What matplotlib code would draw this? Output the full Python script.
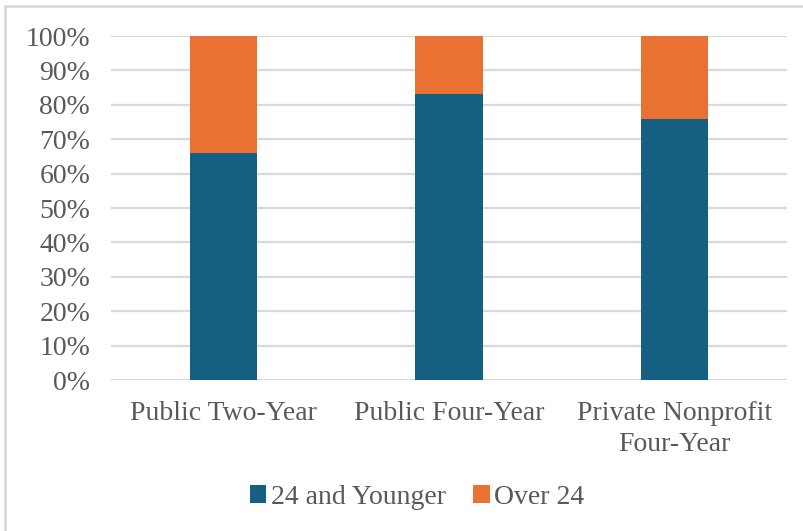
import numpy as np
import matplotlib
matplotlib.use("Agg")
import matplotlib.pyplot as plt
from matplotlib.patches import Rectangle
from matplotlib.ticker import PercentFormatter

sectors = ["Public Two-Year", "Public Four-Year", "Private Nonprofit\nFour-Year"]
young = [66, 83, 76]           # 24 and younger, percent
older = [34, 17, 24]           # over 24, percent
series_names = ["24 and Younger", "Over 24"]

BLUE = "#156082"
ORANGE = "#E97132"
GRID = "#D9D9D9"
TEXT = "#595959"

plt.rcParams["font.family"] = ["Liberation Serif", "DejaVu Serif"]

fig = plt.figure(figsize=(8.04, 5.31), dpi=100)
ax = fig.add_axes([111 / 804, 151 / 531, 676 / 804, 344 / 531])

x = np.arange(len(sectors))
w = 0.30
ax.bar(x, young, w, color=BLUE, label=series_names[0], zorder=3)
ax.bar(x, older, w, bottom=young, color=ORANGE, label=series_names[1], zorder=3)

ax.set_xlim(-0.5, len(sectors) - 0.5)
ax.set_ylim(0, 100)
ax.set_yticks(np.arange(0, 101, 10))
ax.yaxis.set_major_formatter(PercentFormatter(decimals=0))
ax.set_xticks(x)
ax.set_xticklabels(sectors, linespacing=1.3)

ax.grid(axis="y", color=GRID, linewidth=1.6, zorder=0)
for s in ax.spines.values():
    s.set_visible(False)
ax.tick_params(axis="both", length=0, labelsize=20, labelcolor=TEXT)
ax.tick_params(axis="y", pad=15)
ax.tick_params(axis="x", pad=15)

leg = fig.legend(loc="center", bbox_to_anchor=(417 / 804, 34 / 531),
                 ncol=2, frameon=False, fontsize=20,
                 handlelength=0.6, handleheight=0.6, handletextpad=0.15,
                 columnspacing=1.0, labelcolor=TEXT)

# chart frame, only the left and top edges fall inside the image
fig.patches.append(Rectangle((5 / 804, -0.1), 1.2, (525 / 531) + 0.1,
                             transform=fig.transFigure, fill=False,
                             edgecolor=GRID, linewidth=2))

fig.savefig("out.png", dpi=100)
